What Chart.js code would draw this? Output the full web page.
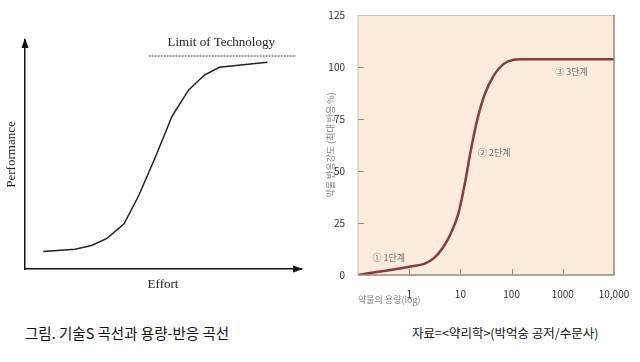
<!DOCTYPE html>
<html><head><meta charset="utf-8">
<script src="https://cdn.jsdelivr.net/npm/chart.js@4/dist/chart.umd.min.js"></script>
<style>
html,body{margin:0;padding:0;background:#fff;width:640px;height:362px;overflow:hidden}
#wrapL{position:absolute;left:0;top:0;width:320px;height:310px}
#wrapR{position:absolute;left:320px;top:0;width:320px;height:310px}
.cap{position:absolute;font-family:"Noto Sans CJK KR","Noto Sans",sans-serif;color:#111;white-space:nowrap;line-height:1}
</style></head><body>
<div id="wrapL"><canvas id="left" width="320" height="310"></canvas></div>
<div id="wrapR"><canvas id="right" width="320" height="310"></canvas></div>
<div class="cap" id="capL" style="left:25px;top:326px;font-size:14.5px">그림. 기술S 곡선과 용량-반응 곡선</div>
<div class="cap" id="capR" style="left:412px;top:327px;font-size:12.5px">자료=&lt;약리학&gt;(박억숭 공저/수문사)</div>
<script>
// ---- Left chart: technology S-curve ----
const effort = [6.6, 18.1, 24.1, 29.7, 35.9, 41.3, 47.3, 53.3, 59.3, 65.0, 70.4, 87.8];
const performance = [7.6, 8.6, 10.3, 13.4, 19.7, 32.3, 49.0, 66.8, 78.2, 84.7, 88.1, 90.3];
const limitEffort = [44.8, 98.2];
const limitLevel = [93, 93];
const limitText = 'Limit of Technology';

// ---- Right chart: dose-response curve ----
const dose = [0.1, 1, 2, 3, 4.5, 6.5, 9, 12, 16, 22, 30, 45, 70, 110, 150, 10000];
const response = [0, 4, 5.5, 8, 13, 20, 29, 43, 60, 76, 87, 96, 101.5, 103.5, 103.7, 103.7];
const doseTicks = [1, 10, 100, 1000, 10000];
const responseTicks = [0, 25, 50, 75, 100, 125];
const stageLabels = ['① 1단계', '② 2단계', '③ 3단계'];

const serif = '"Liberation Serif","DejaVu Serif",serif';
const kfont = '"Noto Sans CJK KR","Noto Sans",sans-serif';

const arrowPlugin = {
  id: 'arrows',
  afterDraw(chart, args, opts) {
    const {ctx, chartArea: a, scales} = chart;
    ctx.save();
    ctx.fillStyle = '#111';
    ctx.beginPath();
    ctx.moveTo(a.left, a.top - 2); ctx.lineTo(a.left - 3.5, a.top + 8); ctx.lineTo(a.left + 3.5, a.top + 8); ctx.closePath(); ctx.fill();
    ctx.beginPath();
    ctx.moveTo(a.right + 2, a.bottom); ctx.lineTo(a.right - 8, a.bottom - 3.5); ctx.lineTo(a.right - 8, a.bottom + 3.5); ctx.closePath(); ctx.fill();
    ctx.font = '13px ' + serif;
    ctx.fillStyle = '#222';
    ctx.textAlign = 'center'; ctx.textBaseline = 'middle';
    ctx.fillText(opts.text, scales.x.getPixelForValue(opts.x), scales.y.getPixelForValue(opts.y));
    ctx.restore();
  }
};

new Chart(document.getElementById('left'), {
  type: 'line',
  data: {
    datasets: [
      { data: effort.map((e, i) => ({x: e, y: performance[i]})), borderColor: '#222', borderWidth: 1.5, pointRadius: 0, tension: 0, fill: false },
      { data: limitEffort.map((e, i) => ({x: e, y: limitLevel[i]})), borderColor: '#444', borderWidth: 1, borderDash: [2, 1], pointRadius: 0, fill: false }
    ]
  },
  plugins: [arrowPlugin],
  options: {
    responsive: false, animation: false,
    layout: {padding: {left: 0, right: 19, top: 40, bottom: 0}},
    plugins: {legend: {display: false}, tooltip: {enabled: false}, arrows: {text: limitText, x: 71.1, y: 98.7}},
    scales: {
      x: {type: 'linear', min: 0, max: 100, grid: {display: false}, ticks: {display: false},
          border: {display: true, color: '#111', width: 1.5},
          title: {display: true, text: 'Effort', color: '#222', font: {family: serif, size: 13}, padding: {top: 0, bottom: 18}},
          afterFit(s) { s.height = 41; }},
      y: {type: 'linear', min: 0, max: 100, grid: {display: false}, ticks: {display: false},
          border: {display: true, color: '#111', width: 1.5},
          title: {display: true, text: 'Performance', color: '#222', font: {family: serif, size: 13}, padding: {top: 4, bottom: 0}},
          afterFit(s) { s.width = 25; }}
    }
  }
});

const framePlugin = {
  id: 'frame',
  beforeDraw(chart) {
    const {ctx, chartArea: a} = chart;
    ctx.save();
    ctx.fillStyle = '#fdecdb';
    ctx.fillRect(a.left, a.top, a.right - a.left, a.bottom - a.top);
    ctx.restore();
  },
  afterDraw(chart, args, opts) {
    const {ctx, chartArea: a, scales} = chart;
    ctx.save();
    ctx.lineWidth = 1;
    ctx.strokeStyle = '#c4c0bc';
    ctx.beginPath(); ctx.moveTo(a.left, a.bottom); ctx.lineTo(a.left, a.top + 0.5); ctx.lineTo(a.right, a.top + 0.5); ctx.stroke();
    ctx.strokeStyle = '#8e8a88'; ctx.lineWidth = 1.5;
    ctx.beginPath(); ctx.moveTo(a.right, a.top); ctx.lineTo(a.right, a.bottom); ctx.lineTo(a.left, a.bottom); ctx.stroke();
    ctx.strokeStyle = '#8e8a88'; ctx.lineWidth = 1;
    scales.y.ticks.forEach(t => {
      if (t.value <= scales.y.min || t.value >= scales.y.max) return;
      const py = Math.round(scales.y.getPixelForValue(t.value)) + 0.5;
      ctx.beginPath(); ctx.moveTo(a.left, py); ctx.lineTo(a.left + 6, py); ctx.stroke();
    });
    scales.x.ticks.forEach(t => {
      if (t.value <= scales.x.min || t.value >= scales.x.max) return;
      const px = Math.round(scales.x.getPixelForValue(t.value)) + 0.5;
      ctx.beginPath(); ctx.moveTo(px, a.bottom); ctx.lineTo(px, a.bottom - 6); ctx.stroke();
    });
    ctx.font = '9px ' + kfont;
    ctx.fillStyle = '#6a6a6a';
    ctx.textAlign = 'center'; ctx.textBaseline = 'middle';
    opts.anchors.forEach((p, i) => {
      ctx.fillText(stageLabels[i], scales.x.getPixelForValue(p[0]), scales.y.getPixelForValue(p[1]));
    });
    ctx.restore();
  }
};

new Chart(document.getElementById('right'), {
  type: 'line',
  data: {
    datasets: [{
      data: dose.map((d, i) => ({x: d, y: response[i]})),
      borderColor: '#8b3a3f', borderWidth: 2.5, pointRadius: 0, fill: false,
      cubicInterpolationMode: 'monotone', tension: 0.4
    }]
  },
  plugins: [framePlugin],
  options: {
    responsive: false, animation: false,
    layout: {padding: {left: 0, right: 26, top: 15, bottom: 0}},
    plugins: {legend: {display: false}, tooltip: {enabled: false},
      frame: {anchors: [[0.4, 8.2], [46, 58.7], [1480, 98]]}},
    scales: {
      x: {type: 'logarithmic', min: 0.1, max: 10000,
          grid: {display: false}, border: {display: false},
          afterBuildTicks(s) { s.ticks = doseTicks.map(v => ({value: v})); },
          ticks: {autoSkip: false, maxRotation: 0, padding: 5, color: '#333', font: {family: kfont, size: 10},
                  callback: v => v >= 10000 ? String(v).replace(/\B(?=(\d{3})+(?!\d))/g, ',') : String(v)},
          title: {display: true, text: '약물의 용량(log)', align: 'start', color: '#808080', font: {family: kfont, size: 9}, padding: {top: 0, bottom: 5}},
          afterFit(s) { s.height = 35; }},
      y: {type: 'linear', min: 0, max: 125,
          grid: {display: false}, border: {display: false},
          afterBuildTicks(s) { s.ticks = responseTicks.map(v => ({value: v})); },
          ticks: {padding: 5, color: '#333', font: {family: kfont, size: 10}},
          title: {display: true, text: '약물 반응강도 (최대 반응 %)', color: '#808080', font: {family: kfont, size: 9}, padding: {top: 5, bottom: 0}},
          afterFit(s) { s.width = 38; }}
    }
  }
});
</script>
</body></html>
